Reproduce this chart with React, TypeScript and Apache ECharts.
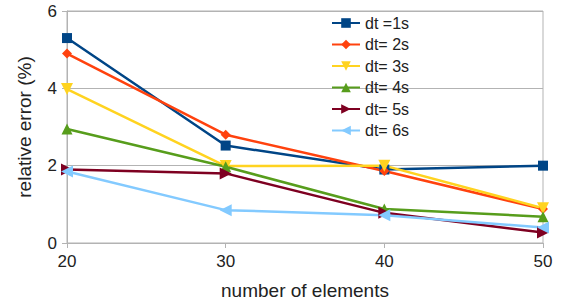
import React, { useEffect, useRef } from "react";
import * as echarts from "echarts";

const xValues = [20, 30, 40, 50];
const seriesNames = ["dt =1s", "dt= 2s", "dt= 3s", "dt= 4s", "dt= 5s", "dt= 6s"];
const dt1 = [5.3, 2.52, 1.9, 2.0];
const dt2 = [4.9, 2.8, 1.86, 0.88];
const dt3 = [3.98, 1.99, 2.0, 0.9];
const dt4 = [2.95, 1.97, 0.88, 0.68];
const dt5 = [1.9, 1.8, 0.78, 0.27];
const dt6 = [1.85, 0.85, 0.72, 0.4];
const colors = ["#004586", "#ff420e", "#ffd320", "#579d1c", "#7e0021", "#83caff"];
const symbols = ["rect", "diamond", "path://M0,0 L10,0 L5,9 Z", "triangle", "path://M0,0 L10,5 L0,10 Z", "path://M10,0 L0,5 L10,10 Z"];
const symbolSizes = [10, 10, 12, 11, 12, 12];

export default function App() {
  const ref = useRef<HTMLDivElement>(null);
  useEffect(() => {
    if (!ref.current) return;
    const chart = echarts.init(ref.current, null, { renderer: "svg" });
    const all = [dt1, dt2, dt3, dt4, dt5, dt6];
    const font = "Liberation Sans";
    chart.setOption({
      animation: false,
      textStyle: { fontFamily: font },
      grid: {
        left: 67, right: 21, top: 11, bottom: 59, show: true,
        borderColor: "#b3b3b3", borderWidth: 1, outerBoundsMode: "none", containLabel: false,
      },
      legend: {
        orient: "vertical",
        left: 326,
        top: 10,
        itemWidth: 28,
        itemHeight: 12,
        itemGap: 5.5,
        textStyle: { fontSize: 16, color: "#222", fontFamily: font },
        data: seriesNames,
      },
      xAxis: {
        type: "value",
        min: 20,
        max: 50,
        interval: 10,
        name: "number of elements",
        nameLocation: "middle",
        nameGap: 38,
        nameTextStyle: { fontSize: 19, color: "#222" },
        axisLine: { lineStyle: { color: "#b3b3b3" } },
        axisTick: { show: true, length: 5, lineStyle: { color: "#b3b3b3" } },
        axisLabel: { fontSize: 17, color: "#222", margin: 10 },
        splitLine: { show: false },
      },
      yAxis: {
        type: "value",
        min: 0,
        max: 6,
        interval: 2,
        name: "relative error (%)",
        nameLocation: "middle",
        nameGap: 33,
        nameTextStyle: { fontSize: 19, color: "#222" },
        axisLine: { show: true, lineStyle: { color: "#b3b3b3" } },
        axisTick: { show: true, length: 5, lineStyle: { color: "#b3b3b3" } },
        axisLabel: { fontSize: 17, color: "#222", margin: 10 },
        splitLine: { lineStyle: { color: "#b3b3b3" } },
      },
      series: seriesNames.map((name, i) => ({
        name,
        type: "line",
        data: xValues.map((x, j) => [x, all[i][j]]),
        symbol: symbols[i],
        symbolSize: symbolSizes[i],
        showAllSymbol: true,
        lineStyle: { width: 2.5, color: colors[i] },
        itemStyle: { color: colors[i] },
        emphasis: { disabled: true },
      })),
    });
    return () => chart.dispose();
  }, []);
  return <div ref={ref} style={{ width: 564, height: 302, position: "absolute", left: 0, top: 0 }} />;
}
